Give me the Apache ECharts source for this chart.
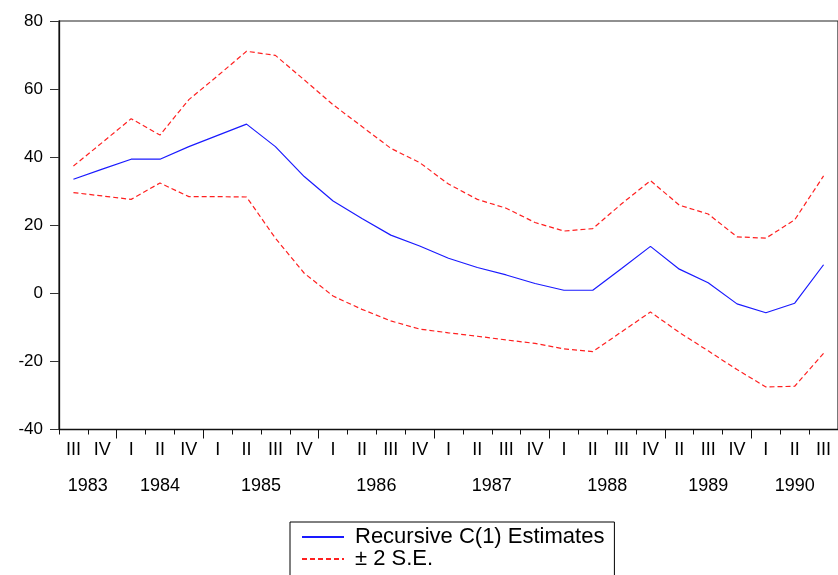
<!DOCTYPE html>
<html>
<head>
<meta charset="utf-8">
<script src="https://cdn.jsdelivr.net/npm/echarts@6/dist/echarts.min.js"></script>
<style>
html,body{margin:0;padding:0;background:#fff;}
#chart{width:838px;height:575px;}
</style>
</head>
<body>
<div id="chart"></div>
<script>
// Quarter tick labels (27 observations)
var categories = ['III','IV','I','II','IV','I','II','III','IV','I','II','III','IV','I','II','III','IV','I','II','III','IV','II','III','IV','I','II','III'];
// Year labels and number of observations per year
var years = ['1983','1984','1985','1986','1987','1988','1989','1990'];
var quartersPerYear = [2,3,4,4,4,4,3,3];
// Series values
var estimates = [33.5, 36.5, 39.4, 39.4, 43.1, 46.4, 49.7, 43.1, 34.3, 27.1, 22.0, 17.1, 13.9, 10.3, 7.6, 5.4, 2.9, 0.9, 0.9, 7.3, 13.8, 7.1, 3.1, -3.1, -5.7, -2.9, 8.4];
var upperSE = [37.4, 44.3, 51.3, 46.5, 56.9, 63.9, 71.1, 69.9, 62.7, 55.4, 49.0, 42.6, 38.4, 32.1, 27.6, 25.0, 20.8, 18.3, 19.0, 26.3, 33.1, 25.9, 23.3, 16.6, 16.2, 21.6, 34.5];
var lowerSE = [29.6, 28.6, 27.6, 32.4, 28.4, 28.4, 28.3, 16.2, 5.9, -0.8, -4.7, -8.1, -10.5, -11.6, -12.6, -13.7, -14.7, -16.3, -17.1, -11.3, -5.5, -11.5, -16.9, -22.4, -27.5, -27.3, -17.6];
var yTicks = [-40, -20, 0, 20, 40, 60, 80];

// Build half-step axis (positions 0, 0.5, ..., n) for year ticks/labels
var n = categories.length;
var halfCats = [];
for (var k = 0; k <= 2 * n; k++) halfCats.push('p' + k);
var yearLabelAt = {};
var yearBoundary = {};
var start = 0;
for (var i = 0; i < years.length; i++) {
  var end = start + quartersPerYear[i];
  yearLabelAt[start + end] = years[i];
  if (end < n) yearBoundary[2 * end] = true;
  start = end;
}

var font = '"Liberation Sans", Arial, sans-serif';
var chart = echarts.init(document.getElementById('chart'), null, {renderer: 'canvas'});
chart.setOption({
  animation: false,
  backgroundColor: '#ffffff',
  grid: {left: 59, top: 21, right: -6, bottom: 145.5, show: true, borderColor: '#222', borderWidth: 1.2, backgroundColor: 'transparent'},
  legend: {
    left: 290, top: 522,
    width: 340, height: 60,
    orient: 'vertical',
    data: ['Recursive C(1) Estimates', '± 2 S.E.'],
    borderColor: '#000', borderWidth: 1,
    padding: [4, 10, 12, 11],
    itemWidth: 42, itemHeight: 14, itemGap: 0,
    itemStyle: {opacity: 0},
    textStyle: {fontFamily: font, fontSize: 22, color: '#000', lineHeight: 20, padding: [0, 0, 0, 6]}
  },
  xAxis: [{
    type: 'category',
    data: categories,
    boundaryGap: true,
    axisLine: {show: true, onZero: false, lineStyle: {color: '#111', width: 1.3}},
    axisTick: {show: true, length: 5, interval: 0, lineStyle: {color: '#111'}},
    axisLabel: {interval: 0, fontFamily: font, fontSize: 18, color: '#000', margin: 12},
    splitLine: {show: false}
  }, {
    type: 'category',
    data: halfCats,
    boundaryGap: false,
    position: 'bottom',
    axisLine: {show: false, onZero: false},
    axisTick: {show: true, length: 9, interval: function (idx) { return !!yearBoundary[idx]; }, lineStyle: {color: '#111'}},
    axisLabel: {
      interval: function (idx) { return yearLabelAt[idx] !== undefined; },
      formatter: function (v, idx) { return yearLabelAt[idx] || ''; },
      fontFamily: font, fontSize: 18, color: '#000', margin: 48, showMinLabel: true, showMaxLabel: true
    },
    splitLine: {show: false}
  }],
  yAxis: {
    type: 'value',
    min: yTicks[0], max: yTicks[yTicks.length - 1], interval: 20,
    axisLine: {show: true, onZero: false, lineStyle: {color: '#111', width: 1.3}},
    axisTick: {show: true, length: 9, lineStyle: {color: '#333'}},
    axisLabel: {fontFamily: font, fontSize: 17, color: '#000', margin: 16},
    splitLine: {show: false}
  },
  series: [{
    name: 'Recursive C(1) Estimates',
    type: 'line',
    data: estimates,
    symbol: 'none',
    lineStyle: {color: '#1a1aff', width: 1.2, type: 'solid'},
    itemStyle: {color: '#1a1aff'}
  }, {
    name: '± 2 S.E.',
    type: 'line',
    data: upperSE,
    symbol: 'none',
    lineStyle: {color: '#ff2020', width: 1.2, type: [5, 3]},
    itemStyle: {color: '#ff2020'}
  }, {
    name: '± 2 S.E.',
    type: 'line',
    data: lowerSE,
    symbol: 'none',
    lineStyle: {color: '#ff2020', width: 1.2, type: [5, 3]},
    itemStyle: {color: '#ff2020'}
  }]
});
</script>
</body>
</html>
